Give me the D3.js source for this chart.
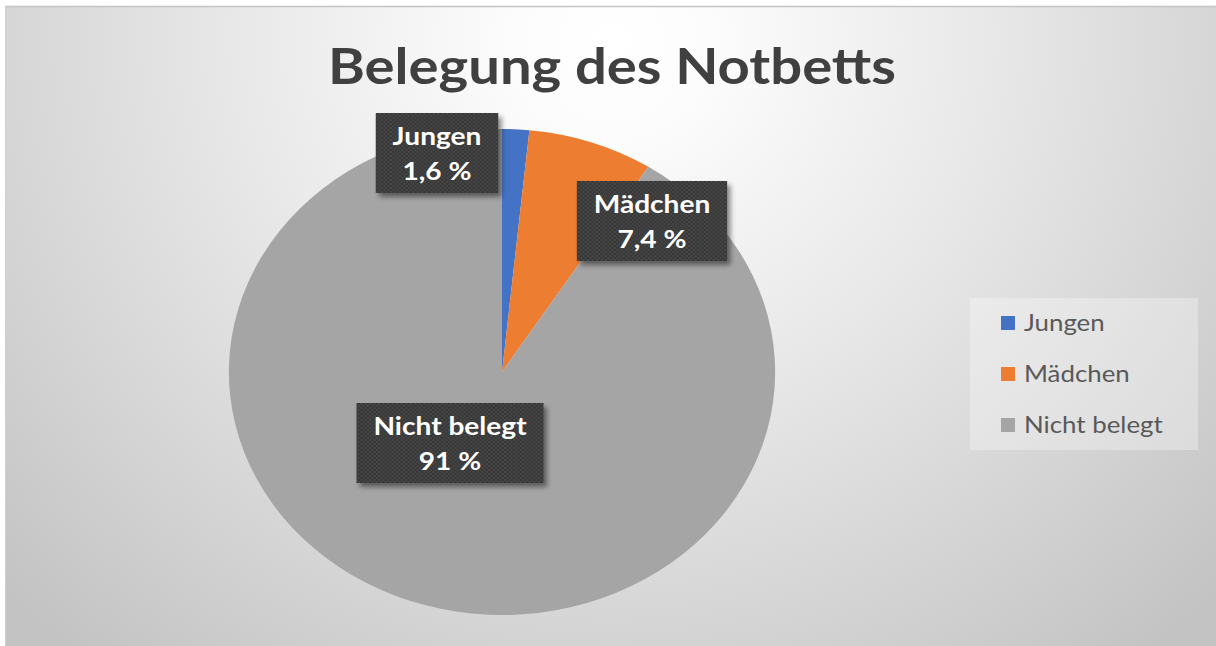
<!DOCTYPE html>
<html>
<head>
<meta charset="utf-8">
<script src="https://cdn.jsdelivr.net/npm/d3@7"></script>
<style>
  body { margin: 0; background: #fff; }
  svg { display: block; }
</style>
</head>
<body>
<div id="vis"></div>
<script>
var width = 1216;
var height = 646;

// data
var categories = ['Jungen', 'Mädchen', 'Nicht belegt'];
var values = [1.6, 7.4, 91];
var valueLabels = ['1,6 %', '7,4 %', '91 %'];
var colors = ['#4472C4', '#ED7D31', '#A5A5A5'];

// layout (picture is stretched horizontally)
var sx = 1.124;
var cx = 502, cy = 372, radius = 243;
// label box centers, relative to pie center
var labelPos = [[-65, -219], [150, -151], [-52, 71]];

var svg = d3.select('#vis')
    .append('svg')
    .attr('width', width)
    .attr('height', height);

var defs = svg.append('defs');
var grad = defs.append('radialGradient')
    .attr('id', 'bg')
    .attr('gradientUnits', 'userSpaceOnUse')
    .attr('cx', 612).attr('cy', 40)
    .attr('r', 840)
    .attr('gradientTransform', 'translate(612,40) scale(1,0.95) translate(-612,-40)');
[[0, '#ffffff'], [0.12, '#fcfcfc'], [0.45, '#e8e8e8'], [0.75, '#d4d4d4'], [1, '#c3c3c3']]
    .forEach(function (s) {
        grad.append('stop').attr('offset', s[0]).attr('stop-color', s[1]);
    });

var pat = defs.append('pattern')
    .attr('id', 'dots')
    .attr('width', 4).attr('height', 4)
    .attr('patternUnits', 'userSpaceOnUse');
pat.append('rect').attr('width', 4).attr('height', 4).attr('fill', '#383838');
pat.append('circle').attr('cx', 1).attr('cy', 1).attr('r', 0.9).attr('fill', '#4a4a4a');
pat.append('circle').attr('cx', 3).attr('cy', 3).attr('r', 0.9).attr('fill', '#4a4a4a');

var shadow = defs.append('filter').attr('id', 'shadow')
    .attr('x', '-20%').attr('y', '-20%').attr('width', '140%').attr('height', '150%');
shadow.append('feDropShadow')
    .attr('dx', 3).attr('dy', 4).attr('stdDeviation', 2.5)
    .attr('flood-color', '#000').attr('flood-opacity', 0.45);

// chart area background
svg.append('rect')
    .attr('x', 5).attr('y', 6)
    .attr('width', width - 5).attr('height', height - 6)
    .attr('fill', 'url(#bg)');
svg.append('line')
    .attr('x1', 5).attr('x2', width).attr('y1', 6.5).attr('y2', 6.5)
    .attr('stroke', '#c4c4c4').attr('stroke-width', 1.5);
svg.append('line')
    .attr('x1', 5.5).attr('x2', 5.5).attr('y1', 6).attr('y2', height)
    .attr('stroke', '#d0d0d0').attr('stroke-width', 1);

// title
svg.append('text')
    .attr('transform', 'translate(612,84) scale(' + sx + ',1)')
    .attr('text-anchor', 'middle')
    .style('font-family', 'Lato, "Open Sans", sans-serif')
    .style('font-weight', 'bold')
    .style('font-size', '50px')
    .style('fill', '#404040')
    .text('Belegung des Notbetts');

// pie
var pie = d3.pie().sort(null).value(function (d) { return d; });
var arc = d3.arc().innerRadius(0).outerRadius(radius);
var arcs = pie(values);

var pieG = svg.append('g')
    .attr('transform', 'translate(' + cx + ',' + cy + ') scale(' + sx + ',1)');
pieG.selectAll('path')
    .data(arcs)
    .enter().append('path')
    .attr('d', arc)
    .attr('fill', function (d, i) { return colors[i]; });

// data labels
var labels = svg.append('g')
    .selectAll('g')
    .data(arcs)
    .enter().append('g')
    .attr('transform', function (d, i) {
        return 'translate(' + (cx + labelPos[i][0]) + ',' + (cy + labelPos[i][1]) + ') scale(' + sx + ',1)';
    });

labels.each(function (d, i) {
    var g = d3.select(this);
    var t = g.append('text')
        .attr('text-anchor', 'middle')
        .style('font-family', 'Lato, "Open Sans", sans-serif')
        .style('font-weight', 'bold')
        .style('font-size', '25px')
        .style('fill', '#ffffff');
    t.append('tspan').attr('x', 0).attr('y', -8).text(categories[i]);
    t.append('tspan').attr('x', 0).attr('y', 27).text(valueLabels[i]);
    var w = t.node().getBBox().width;
    g.insert('rect', 'text')
        .attr('x', -w / 2 - 15).attr('y', -40)
        .attr('width', w + 30).attr('height', 80)
        .attr('fill', 'url(#dots)')
        .attr('filter', 'url(#shadow)');
});

// legend
var legend = svg.append('g').attr('transform', 'translate(970,298)');
legend.append('rect')
    .attr('width', 228).attr('height', 152)
    .attr('fill', '#ffffff').attr('fill-opacity', 0.3);
var items = legend.selectAll('g.item')
    .data(categories)
    .enter().append('g')
    .attr('class', 'item')
    .attr('transform', function (d, i) { return 'translate(31,' + (25 + i * 51) + ')'; });
items.append('rect')
    .attr('x', 0).attr('y', -7).attr('width', 14).attr('height', 14)
    .attr('fill', function (d, i) { return colors[i]; });
items.append('text')
    .attr('transform', 'translate(23,8) scale(' + sx + ',1)')
    .style('font-family', 'Lato, "Open Sans", sans-serif')
    .style('font-size', '23px')
    .style('fill', '#595959')
    .text(function (d) { return d; });
</script>
</body>
</html>
